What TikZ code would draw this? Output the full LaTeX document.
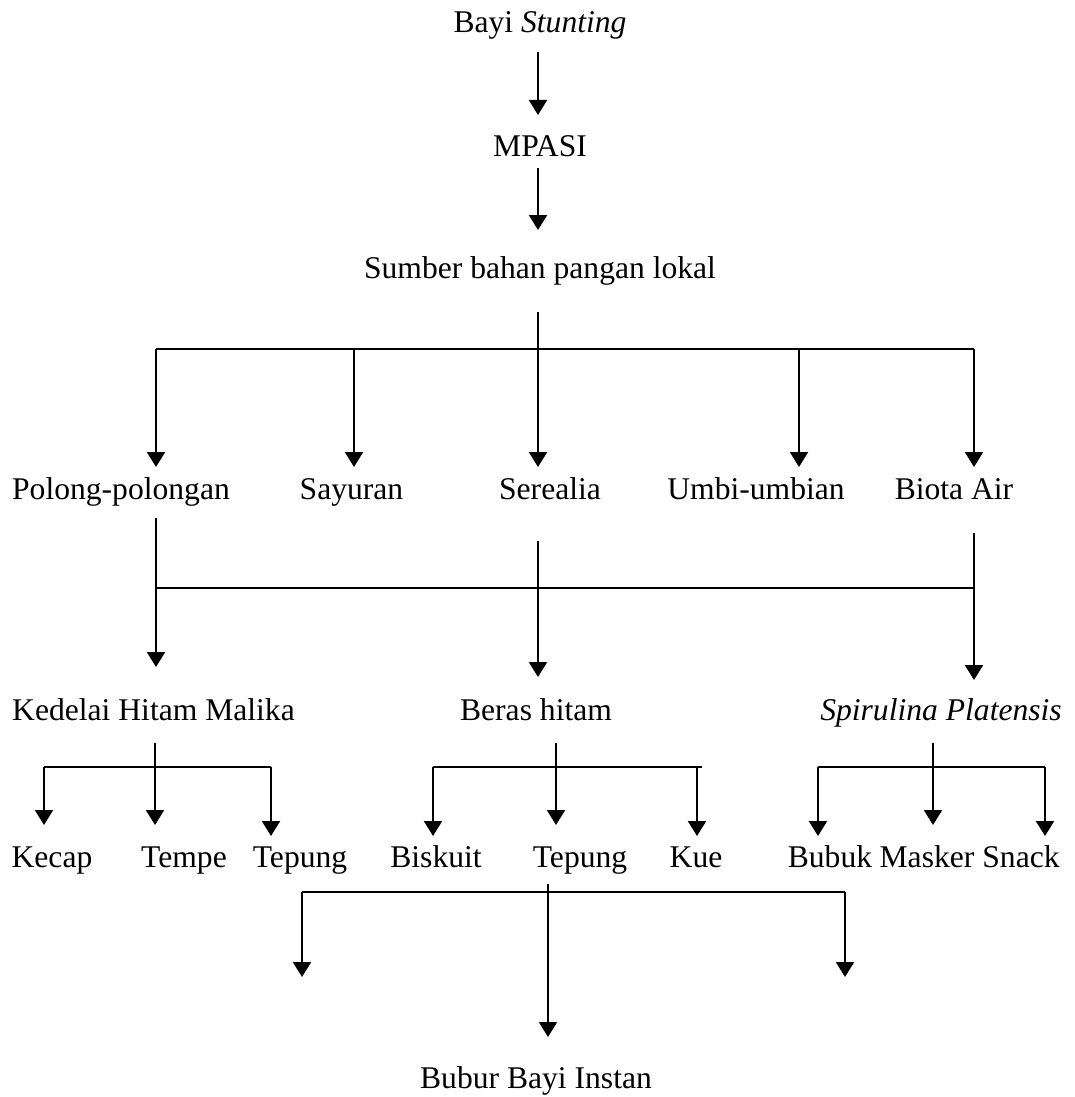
\documentclass[tikz,border=0pt]{standalone}
\usepackage{fontspec}
\setmainfont{Liberation Serif}
\usetikzlibrary{arrows.meta}
\begin{document}
\begin{tikzpicture}[x=1pt,y=-1pt,
  arr/.style={line width=2.2pt,-{Triangle[width=18pt,length=15pt]}},
  bus/.style={line width=1.3pt},
  lbl/.style={anchor=base,inner sep=0pt,font=\fontsize{31.6pt}{36pt}\selectfont}]
\useasboundingbox[fill=white] (0,0) rectangle (1075,1097);
% text nodes
\node[lbl] (bayi) at (540,33) {Bayi \textit{Stunting}};
\node[lbl] (mpasi) at (540,156) {MPASI};
\node[lbl] (sumber) at (540,278) {Sumber bahan pangan lokal};
\node[lbl] (polong) at (121,499) {Polong-polongan};
\node[lbl] (sayuran) at (351.5,499) {Sayuran};
\node[lbl] (serealia) at (550,499) {Serealia};
\node[lbl] (umbi) at (756,499) {Umbi-umbian};
\node[lbl] (biota) at (954,499) {Biota Air};
\node[lbl] (kedelai) at (153.5,720) {Kedelai Hitam Malika};
\node[lbl] (beras) at (536,720) {Beras hitam};
\node[lbl] (spirulina) at (941,720) {\textit{Spirulina Platensis}};
\node[lbl] (kecap) at (52,867) {Kecap};
\node[lbl] (tempe) at (184,867) {Tempe};
\node[lbl] (tepungA) at (300,867) {Tepung};
\node[lbl] (biskuit) at (436,867) {Biskuit};
\node[lbl] (tepungB) at (580,867) {Tepung};
\node[lbl] (kue) at (696,867) {Kue};
\node[lbl] (bubuk) at (830,867) {Bubuk};
\node[lbl] (masker) at (927,867) {Masker};
\node[lbl] (snack) at (1021,867) {Snack};
\node[lbl] (bubur) at (536,1088) {Bubur Bayi Instan};
% coordinates
\coordinate (bayiS) at (538,52);   \coordinate (mpasiN) at (538,115);
\coordinate (mpasiS) at (538,168); \coordinate (sumberN) at (538,230);
\coordinate (sumberS) at (538,312); \coordinate (serealiaN) at (538,467);
\coordinate (b1L) at (156,349); \coordinate (b1R) at (974,349);
\coordinate (b1Sa) at (354,349); \coordinate (b1Um) at (799,349);
\coordinate (polongN) at (156,467); \coordinate (sayuranN) at (354,467);
\coordinate (umbiN) at (799,467); \coordinate (biotaN) at (974,467);
% level 2
\coordinate (polongS) at (156,518); \coordinate (kedelaiN) at (156,667);
\coordinate (serealiaS) at (538,541); \coordinate (berasN) at (538,677);
\coordinate (biotaS) at (974,533); \coordinate (spirulinaN) at (974,680);
\coordinate (b2L) at (156,588); \coordinate (b2R) at (974,588);
% level 3
\coordinate (kedelaiS) at (155,743); \coordinate (tempeN) at (155,825);
\coordinate (b3L) at (44,767); \coordinate (b3R) at (271,767);
\coordinate (kecapN) at (44,825); \coordinate (tepungAN) at (271,836);
\coordinate (berasS) at (556,743); \coordinate (tepungBN) at (556,825);
\coordinate (b4L) at (433,767); \coordinate (b4R) at (702,767);
\coordinate (b4K) at (697,767);
\coordinate (biskuitN) at (433,836); \coordinate (kueN) at (697,836);
\coordinate (spirulinaS) at (933,743); \coordinate (maskerN) at (933,825);
\coordinate (b5L) at (818,767); \coordinate (b5R) at (1045,767);
\coordinate (bubukN) at (818,836); \coordinate (snackN) at (1045,836);
% level 4
\coordinate (tepungBS) at (548,884); \coordinate (buburN) at (548,1037);
\coordinate (b6L) at (302,892); \coordinate (b6R) at (845,892);
\coordinate (d6L) at (302,977); \coordinate (d6R) at (845,977);
% connectors
\draw[arr] (bayiS) -- (mpasiN);
\draw[arr] (mpasiS) -- (sumberN);
\draw[arr] (sumberS) -- (serealiaN);
\draw[bus] (b1L) -- (b1R);
\draw[arr] (b1L) -- (polongN);
\draw[arr] (b1Sa) -- (sayuranN);
\draw[arr] (b1Um) -- (umbiN);
\draw[arr] (b1R) -- (biotaN);
\draw[arr] (polongS) -- (kedelaiN);
\draw[arr] (serealiaS) -- (berasN);
\draw[arr] (biotaS) -- (spirulinaN);
\draw[bus] (b2L) -- (b2R);
\draw[arr] (kedelaiS) -- (tempeN);
\draw[bus] (b3L) -- (b3R);
\draw[arr] (b3L) -- (kecapN);
\draw[arr] (b3R) -- (tepungAN);
\draw[arr] (berasS) -- (tepungBN);
\draw[bus] (b4L) -- (b4R);
\draw[arr] (b4L) -- (biskuitN);
\draw[arr] (b4K) -- (kueN);
\draw[arr] (spirulinaS) -- (maskerN);
\draw[bus] (b5L) -- (b5R);
\draw[arr] (b5L) -- (bubukN);
\draw[arr] (b5R) -- (snackN);
\draw[arr] (tepungBS) -- (buburN);
\draw[bus] (b6L) -- (b6R);
\draw[arr] (b6L) -- (d6L);
\draw[arr] (b6R) -- (d6R);
\end{tikzpicture}
\end{document}
